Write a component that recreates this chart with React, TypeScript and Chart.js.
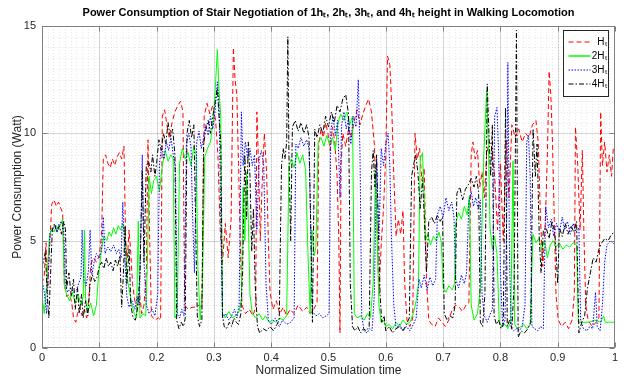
import React, { useEffect, useRef } from "react";
import { Chart, registerables } from "chart.js";

Chart.register(...registerables);

const FONT = "'Liberation Sans', Arial, Helvetica, sans-serif";

const chartTitle =
  "Power Consumption of Stair Negotiation of 1hₜ, 2hₜ, 3hₜ, and 4hₜ height in Walking Locomotion";
const xAxisTitle = "Normalized Simulation time";
const yAxisTitle = "Power Consumption (Watt)";

const xTickValues = [0, 0.1, 0.2, 0.3, 0.4, 0.5, 0.6, 0.7, 0.8, 0.9, 1];
const yTickValues = [0, 5, 10, 15];

const seriesLabels = ["Hₜ", "2Hₜ", "3Hₜ", "4Hₜ"];
const seriesColors = ["#ff0000", "#00ff00", "#0000ff", "#000000"];
const seriesDash = [[5, 3], [], [1.5, 1.5], [5, 2, 1.5, 2]];

const h1Data: [number, number][] = [
  [0.000,3.0],[0.004,3.4],[0.007,4.9],[0.010,2.8],[0.013,4.5],[0.017,6.7],[0.021,6.9],[0.025,6.6],[0.029,6.8],[0.033,6.5],
  [0.036,6.3],[0.039,3.0],[0.043,2.4],[0.048,2.5],[0.052,2.1],[0.055,1.4],[0.059,1.2],[0.062,1.6],[0.066,1.9],[0.070,1.5],
  [0.074,1.8],[0.078,1.4],[0.082,2.4],[0.085,3.9],[0.090,4.2],[0.095,4.0],[0.100,4.3],[0.104,5.3],[0.107,8.8],[0.111,9.0],
  [0.115,8.6],[0.119,8.4],[0.123,8.8],[0.127,8.5],[0.131,8.9],[0.135,9.1],[0.139,8.8],[0.143,9.4],[0.146,5.0],[0.149,4.2],
  [0.152,5.5],[0.155,4.4],[0.158,3.0],[0.162,2.2],[0.166,1.8],[0.170,2.6],[0.174,1.6],[0.178,2.0],[0.182,3.5],[0.185,9.7],
  [0.188,5.0],[0.191,1.5],[0.197,1.3],[0.203,1.4],[0.207,1.3],[0.210,10.8],[0.214,11.1],[0.218,10.4],[0.222,9.8],[0.227,10.5],
  [0.232,11.0],[0.237,11.3],[0.242,11.5],[0.246,11.0],[0.249,2.0],[0.255,1.8],[0.262,1.9],[0.268,1.9],[0.274,2.0],[0.279,1.9],
  [0.283,10.8],[0.288,11.4],[0.293,10.9],[0.298,11.3],[0.303,10.6],[0.307,9.0],[0.311,5.5],[0.315,4.0],[0.320,5.8],[0.325,4.2],
  [0.330,6.0],[0.334,14.0],[0.337,12.5],[0.340,11.8],[0.343,8.6],[0.346,5.0],[0.349,2.0],[0.355,1.6],[0.362,1.8],[0.368,1.5],
  [0.373,1.9],[0.375,11.0],[0.378,8.5],[0.381,5.0],[0.384,7.5],[0.388,10.0],[0.392,8.2],[0.395,5.0],[0.398,2.6],[0.403,1.8],
  [0.409,2.2],[0.415,1.6],[0.421,1.9],[0.427,1.5],[0.433,1.8],[0.440,1.6],[0.447,2.0],[0.455,1.7],[0.462,1.9],[0.468,1.6],
  [0.474,1.8],[0.480,2.1],[0.483,9.5],[0.487,10.2],[0.491,9.8],[0.495,10.5],[0.499,10.0],[0.503,9.2],[0.507,10.3],[0.511,9.6],
  [0.515,8.0],[0.518,5.0],[0.520,0.7],[0.522,8.6],[0.525,10.0],[0.530,9.4],[0.535,10.2],[0.540,9.8],[0.545,10.6],[0.550,11.1],
  [0.555,10.4],[0.560,10.9],[0.565,11.3],[0.570,11.6],[0.575,11.0],[0.580,9.5],[0.585,5.5],[0.588,2.5],[0.592,4.8],[0.596,6.5],
  [0.600,9.0],[0.603,13.6],[0.607,13.2],[0.610,11.5],[0.614,8.0],[0.618,5.2],[0.622,6.0],[0.626,5.3],[0.630,6.4],[0.633,3.0],
  [0.637,1.3],[0.642,1.0],[0.647,1.4],[0.651,10.0],[0.655,8.8],[0.659,9.3],[0.663,7.8],[0.667,8.4],[0.671,3.2],[0.675,1.3],
  [0.680,1.1],[0.686,1.0],[0.692,1.4],[0.698,1.2],[0.704,1.0],[0.710,1.3],[0.716,1.8],[0.722,2.0],[0.728,1.9],[0.734,1.7],
  [0.740,2.0],[0.745,2.1],[0.749,9.0],[0.752,9.6],[0.756,8.8],[0.760,9.2],[0.764,7.5],[0.768,8.2],[0.772,7.0],[0.776,9.0],
  [0.780,9.6],[0.784,9.5],[0.790,8.0],[0.795,5.5],[0.800,8.6],[0.805,5.0],[0.810,9.7],[0.815,7.0],[0.820,10.4],[0.826,9.8],
  [0.832,10.2],[0.838,9.6],[0.844,10.0],[0.850,9.8],[0.856,10.4],[0.862,10.6],[0.866,9.6],[0.870,6.0],[0.874,3.8],[0.878,5.6],
  [0.882,9.0],[0.885,12.9],[0.888,11.8],[0.891,9.5],[0.894,6.0],[0.897,2.5],[0.901,1.3],[0.907,1.0],[0.913,1.2],[0.919,0.9],
  [0.925,1.3],[0.929,2.5],[0.931,10.3],[0.935,8.5],[0.939,5.5],[0.943,9.2],[0.946,5.0],[0.949,2.0],[0.953,1.3],[0.960,1.0],
  [0.967,1.2],[0.972,1.4],[0.975,11.0],[0.978,8.5],[0.982,9.6],[0.986,8.2],[0.990,9.0],[0.994,8.0],[0.997,9.3],[1.000,9.2],
];

const h2Data: [number, number][] = [
  [0.000,2.4],[0.004,1.6],[0.008,3.0],[0.013,5.2],[0.017,5.6],[0.021,5.4],[0.025,5.7],[0.029,5.5],[0.033,5.8],[0.036,6.0],
  [0.039,2.9],[0.043,2.5],[0.048,2.2],[0.053,2.6],[0.058,2.1],[0.063,2.5],[0.068,2.0],[0.072,2.4],[0.074,5.5],[0.076,2.3],
  [0.080,1.7],[0.085,2.1],[0.090,1.5],[0.095,2.0],[0.099,3.5],[0.104,4.6],[0.108,5.2],[0.113,5.0],[0.117,5.4],[0.121,5.2],
  [0.125,5.6],[0.129,5.3],[0.133,5.7],[0.137,5.5],[0.141,5.8],[0.145,5.2],[0.149,3.2],[0.153,2.6],[0.157,2.0],[0.161,1.6],
  [0.165,1.4],[0.168,5.9],[0.171,1.4],[0.176,1.6],[0.181,1.5],[0.184,4.0],[0.187,8.0],[0.191,7.2],[0.195,7.8],[0.200,8.0],
  [0.205,7.3],[0.210,8.5],[0.215,9.2],[0.220,8.7],[0.225,9.0],[0.229,8.8],[0.232,1.4],[0.236,1.6],[0.240,8.6],[0.245,9.3],
  [0.250,8.8],[0.255,9.1],[0.260,8.5],[0.265,9.4],[0.269,9.0],[0.272,3.8],[0.276,1.3],[0.280,2.8],[0.284,8.9],[0.289,9.3],
  [0.294,9.6],[0.299,10.6],[0.303,12.4],[0.306,13.9],[0.309,12.0],[0.312,10.8],[0.315,1.6],[0.320,1.4],[0.326,1.7],[0.332,1.4],
  [0.338,1.5],[0.344,1.7],[0.348,2.3],[0.351,7.5],[0.354,5.0],[0.357,8.2],[0.360,6.0],[0.363,2.5],[0.367,1.6],[0.373,1.4],
  [0.379,1.6],[0.385,1.3],[0.390,1.5],[0.396,1.2],[0.402,1.3],[0.408,1.2],[0.415,1.4],[0.421,1.3],[0.427,1.5],[0.431,8.5],
  [0.435,8.8],[0.440,8.4],[0.445,9.1],[0.450,8.6],[0.455,9.0],[0.460,8.3],[0.464,4.5],[0.468,1.6],[0.471,5.5],[0.475,4.3],
  [0.478,4.7],[0.482,9.6],[0.487,9.8],[0.492,9.4],[0.497,9.9],[0.502,9.5],[0.507,9.8],[0.512,9.2],[0.516,10.4],[0.521,10.9],
  [0.527,10.6],[0.532,11.0],[0.537,10.4],[0.542,10.8],[0.545,1.6],[0.550,1.4],[0.556,1.5],[0.562,1.3],[0.568,1.6],[0.573,1.4],
  [0.578,3.0],[0.582,8.3],[0.585,5.0],[0.588,2.0],[0.592,1.2],[0.596,1.3],[0.600,1.0],[0.606,1.1],[0.612,0.9],[0.618,1.2],
  [0.624,1.0],[0.630,1.3],[0.636,1.1],[0.642,1.2],[0.648,1.6],[0.653,2.2],[0.657,3.0],[0.660,8.8],[0.664,9.1],[0.667,7.0],
  [0.669,5.0],[0.673,5.3],[0.678,4.8],[0.683,5.2],[0.688,5.0],[0.693,5.4],[0.697,4.9],[0.700,2.8],[0.705,2.6],[0.710,2.9],
  [0.716,2.7],[0.720,3.0],[0.722,5.8],[0.727,6.3],[0.732,6.0],[0.737,6.6],[0.742,6.2],[0.746,7.1],[0.749,2.0],[0.754,1.3],
  [0.760,1.6],[0.765,2.8],[0.771,9.0],[0.776,12.0],[0.779,9.5],[0.782,5.6],[0.786,4.6],[0.790,5.2],[0.794,4.4],[0.798,1.2],
  [0.803,1.0],[0.808,1.1],[0.813,0.9],[0.818,1.2],[0.822,8.7],[0.825,1.1],[0.830,0.9],[0.836,1.0],[0.841,1.1],[0.846,0.9],
  [0.852,1.1],[0.857,5.3],[0.862,4.9],[0.867,5.1],[0.872,4.6],[0.877,5.0],[0.882,4.2],[0.887,4.8],[0.892,5.0],[0.897,4.7],
  [0.903,4.9],[0.909,4.6],[0.915,4.8],[0.921,4.7],[0.927,4.9],[0.933,4.8],[0.936,1.2],[0.945,1.2],[0.955,1.2],[0.965,1.3],
  [0.975,1.2],[0.980,1.5],[0.983,1.2],[0.990,1.2],[1.000,1.2],
];

const h3Data: [number, number][] = [
  [0.000,3.2],[0.004,2.6],[0.008,1.6],[0.011,3.5],[0.014,5.4],[0.018,5.5],[0.022,5.7],[0.026,5.4],[0.030,5.8],[0.034,5.9],
  [0.038,5.5],[0.041,2.9],[0.045,2.6],[0.050,2.8],[0.055,2.6],[0.060,2.7],[0.064,3.0],[0.068,3.3],[0.070,5.5],[0.073,3.2],
  [0.077,2.9],[0.081,3.6],[0.084,5.5],[0.087,3.4],[0.091,4.0],[0.095,4.4],[0.100,4.2],[0.104,4.6],[0.107,6.1],[0.110,4.4],
  [0.115,4.7],[0.120,4.5],[0.125,4.8],[0.130,4.4],[0.134,4.6],[0.138,4.2],[0.141,6.8],[0.144,4.5],[0.148,2.4],[0.152,1.9],
  [0.157,2.2],[0.162,1.8],[0.166,2.4],[0.170,2.0],[0.175,9.0],[0.178,4.0],[0.182,2.0],[0.187,1.6],[0.192,1.8],[0.197,1.5],
  [0.202,2.5],[0.205,8.6],[0.209,9.4],[0.213,8.8],[0.217,9.6],[0.221,9.2],[0.225,9.8],[0.229,9.0],[0.233,8.4],[0.236,1.6],
  [0.240,1.4],[0.244,1.8],[0.248,1.5],[0.252,9.5],[0.256,10.0],[0.260,9.4],[0.263,6.0],[0.266,3.5],[0.270,9.6],[0.274,10.1],
  [0.278,9.3],[0.282,9.8],[0.286,10.4],[0.290,9.9],[0.294,10.8],[0.298,10.2],[0.302,11.0],[0.306,12.4],[0.309,11.3],[0.312,6.0],
  [0.315,1.4],[0.320,1.6],[0.326,1.3],[0.331,1.5],[0.336,1.8],[0.340,1.4],[0.344,2.0],[0.348,11.0],[0.351,8.5],[0.355,9.6],
  [0.359,8.8],[0.363,9.3],[0.367,8.5],[0.371,9.0],[0.375,5.5],[0.379,8.8],[0.383,9.2],[0.387,8.5],[0.391,3.0],[0.395,1.3],
  [0.400,1.1],[0.407,1.4],[0.414,1.0],[0.420,1.3],[0.427,1.1],[0.434,1.2],[0.440,1.4],[0.443,9.5],[0.447,9.3],[0.452,9.8],
  [0.457,9.4],[0.462,9.7],[0.466,9.3],[0.469,5.8],[0.472,1.7],[0.478,1.5],[0.484,1.6],[0.490,1.4],[0.496,1.5],[0.501,1.6],
  [0.504,10.1],[0.508,10.8],[0.512,9.9],[0.516,10.6],[0.520,7.0],[0.523,10.4],[0.527,11.0],[0.531,10.2],[0.535,10.7],[0.539,9.5],
  [0.543,10.8],[0.548,10.3],[0.552,12.5],[0.555,9.0],[0.558,1.5],[0.562,0.8],[0.567,0.7],[0.572,0.9],[0.576,0.8],[0.580,2.5],
  [0.584,8.8],[0.588,5.0],[0.592,9.3],[0.596,8.5],[0.600,9.5],[0.604,10.0],[0.607,8.5],[0.610,5.0],[0.614,2.0],[0.618,0.9],
  [0.624,1.1],[0.630,0.8],[0.636,1.0],[0.642,0.8],[0.648,1.1],[0.653,1.4],[0.658,3.2],[0.662,2.8],[0.667,3.4],[0.672,2.7],
  [0.677,3.3],[0.682,2.9],[0.687,3.2],[0.690,6.2],[0.695,6.6],[0.700,6.1],[0.705,7.0],[0.710,6.4],[0.715,6.8],[0.719,6.1],
  [0.722,3.2],[0.727,2.8],[0.732,3.4],[0.737,3.0],[0.741,3.5],[0.745,6.8],[0.749,7.3],[0.753,6.6],[0.757,7.0],[0.761,6.5],
  [0.765,6.9],[0.768,2.5],[0.772,1.5],[0.777,1.2],[0.781,1.5],[0.786,1.8],[0.790,10.8],[0.794,11.2],[0.797,9.0],[0.800,3.5],
  [0.804,1.0],[0.808,1.3],[0.811,6.0],[0.813,13.3],[0.816,4.0],[0.819,0.9],[0.823,0.8],[0.828,0.9],[0.833,0.8],[0.838,1.0],
  [0.843,2.0],[0.846,9.6],[0.849,9.9],[0.852,8.0],[0.855,1.0],[0.860,0.9],[0.865,0.8],[0.870,1.0],[0.875,0.9],[0.879,6.6],
  [0.884,5.6],[0.889,6.0],[0.893,5.2],[0.898,5.8],[0.903,5.4],[0.908,6.1],[0.912,5.5],[0.917,5.9],[0.922,5.3],[0.927,5.8],
  [0.932,5.4],[0.937,5.6],[0.940,1.3],[0.945,0.9],[0.951,0.8],[0.956,1.0],[0.961,0.9],[0.966,2.6],[0.969,1.0],[0.974,0.8],
  [0.978,2.0],[0.982,4.0],[0.986,4.8],[0.992,5.0],[1.000,4.8],
];

const h4Data: [number, number][] = [
  [0.000,3.8],[0.003,4.1],[0.006,4.5],[0.009,2.5],[0.012,1.4],[0.015,3.5],[0.018,5.5],[0.022,5.8],[0.026,5.4],[0.030,5.7],
  [0.034,5.3],[0.038,5.9],[0.041,5.5],[0.043,2.8],[0.047,3.5],[0.051,2.4],[0.055,3.2],[0.058,1.8],[0.062,2.8],[0.065,1.6],
  [0.069,2.5],[0.072,1.4],[0.076,2.2],[0.080,1.5],[0.084,3.0],[0.088,3.4],[0.092,3.1],[0.096,3.3],[0.100,3.8],[0.104,4.0],
  [0.108,3.7],[0.112,4.2],[0.116,3.8],[0.120,4.0],[0.124,3.6],[0.128,4.1],[0.132,3.8],[0.136,4.3],[0.139,1.9],[0.142,3.4],
  [0.145,5.7],[0.148,3.0],[0.152,4.6],[0.155,2.0],[0.159,1.4],[0.163,1.3],[0.167,1.9],[0.171,3.5],[0.175,8.3],[0.178,4.0],
  [0.182,8.5],[0.186,8.7],[0.190,8.2],[0.193,9.0],[0.197,8.0],[0.200,8.6],[0.204,9.7],[0.208,9.2],[0.212,10.0],[0.216,9.5],
  [0.220,10.5],[0.224,9.8],[0.228,10.2],[0.232,9.0],[0.235,1.3],[0.239,0.9],[0.243,1.2],[0.247,1.0],[0.250,1.4],[0.253,10.0],
  [0.257,10.6],[0.261,9.8],[0.265,10.4],[0.268,6.0],[0.271,1.5],[0.275,1.0],[0.279,1.3],[0.282,9.5],[0.286,10.2],[0.290,10.6],
  [0.294,10.0],[0.298,10.8],[0.302,11.4],[0.306,12.1],[0.309,10.8],[0.312,9.5],[0.315,1.5],[0.318,1.0],[0.322,0.9],[0.327,1.2],
  [0.331,1.0],[0.335,1.4],[0.339,1.2],[0.343,1.1],[0.347,1.6],[0.350,3.5],[0.354,9.0],[0.357,6.0],[0.360,9.6],[0.363,8.0],
  [0.366,4.5],[0.369,6.5],[0.372,3.0],[0.376,1.0],[0.380,0.7],[0.386,0.9],[0.392,0.8],[0.398,1.0],[0.404,0.8],[0.410,1.1],
  [0.414,1.3],[0.418,8.5],[0.421,9.3],[0.424,8.8],[0.427,9.6],[0.429,14.5],[0.431,9.0],[0.434,5.0],[0.437,10.3],[0.442,10.6],
  [0.447,10.1],[0.452,10.5],[0.457,10.0],[0.462,10.4],[0.466,9.8],[0.469,5.5],[0.472,1.2],[0.476,10.2],[0.480,9.8],[0.485,10.4],
  [0.490,10.0],[0.495,10.8],[0.500,10.3],[0.505,11.0],[0.510,10.5],[0.515,11.3],[0.520,11.0],[0.525,11.6],[0.530,11.8],[0.535,10.9],
  [0.538,3.0],[0.542,1.0],[0.546,0.8],[0.551,1.0],[0.556,0.7],[0.561,0.9],[0.566,0.8],[0.571,1.0],[0.575,8.2],[0.578,9.2],
  [0.581,7.5],[0.584,9.0],[0.587,5.5],[0.590,2.5],[0.593,1.2],[0.597,1.5],[0.600,0.8],[0.606,1.0],[0.612,0.7],[0.618,0.9],
  [0.624,1.0],[0.630,0.8],[0.636,1.1],[0.641,1.4],[0.645,8.0],[0.649,8.6],[0.652,9.0],[0.656,8.2],[0.660,6.5],[0.664,7.8],
  [0.667,6.2],[0.671,3.5],[0.675,5.9],[0.680,6.1],[0.685,5.8],[0.690,6.2],[0.695,5.9],[0.699,6.1],[0.702,1.6],[0.707,1.3],
  [0.712,1.5],[0.717,1.4],[0.721,2.0],[0.724,7.2],[0.729,7.5],[0.734,6.9],[0.739,7.4],[0.744,7.6],[0.749,7.9],[0.754,7.5],
  [0.758,8.0],[0.762,7.3],[0.765,1.2],[0.769,1.0],[0.773,2.5],[0.777,12.3],[0.780,10.0],[0.783,8.0],[0.786,10.4],[0.789,1.5],
  [0.793,1.1],[0.797,1.3],[0.801,0.9],[0.805,1.1],[0.809,11.2],[0.812,1.0],[0.816,1.3],[0.820,0.9],[0.824,3.0],[0.828,14.8],
  [0.831,0.5],[0.836,0.8],[0.842,0.7],[0.848,0.9],[0.853,1.2],[0.857,10.2],[0.861,8.0],[0.864,9.5],[0.868,5.0],[0.871,3.5],
  [0.875,5.5],[0.880,5.6],[0.885,5.1],[0.890,5.9],[0.895,5.4],[0.900,3.0],[0.903,5.6],[0.908,5.2],[0.913,5.8],[0.918,5.3],
  [0.923,5.7],[0.928,5.4],[0.933,5.9],[0.937,0.7],[0.942,1.2],[0.947,1.5],[0.952,2.8],[0.957,3.5],[0.962,4.2],[0.967,4.0],
  [0.972,4.6],[0.977,4.9],[0.982,5.1],[0.988,5.0],[0.994,5.3],[1.000,5.4],
];

const allSeries = [h1Data, h2Data, h3Data, h4Data];

const AXIS_COLOR = "#808080";
const TEXT_COLOR = "#262626";

const matlabPlugin = {
  id: "matlabLook",
  beforeDatasetsDraw(chart: any) {
    const { ctx, chartArea: a, scales } = chart;
    const xs = scales.x;
    const ys = scales.y;
    ctx.save();
    ctx.lineWidth = 1;
    ctx.strokeStyle = "rgba(0,0,0,0.09)";
    ctx.setLineDash([1, 2]);
    const xMin = xTickValues[0];
    const xMax = xTickValues[xTickValues.length - 1];
    const xMinorStep = (xTickValues[1] - xTickValues[0]) / 10;
    for (let v = xMin + xMinorStep; v < xMax - 1e-9; v += xMinorStep) {
      const px = Math.round(xs.getPixelForValue(v)) + 0.5;
      ctx.beginPath();
      ctx.moveTo(px, a.top);
      ctx.lineTo(px, a.bottom);
      ctx.stroke();
    }
    const yMinorStep = (yTickValues[1] - yTickValues[0]) / 10;
    for (let v = yTickValues[0] + yMinorStep; v < yTickValues[yTickValues.length - 1] - 1e-9; v += yMinorStep) {
      const py = Math.round(ys.getPixelForValue(v)) + 0.5;
      ctx.beginPath();
      ctx.moveTo(a.left, py);
      ctx.lineTo(a.right, py);
      ctx.stroke();
    }
    ctx.setLineDash([]);
    ctx.strokeStyle = "rgba(0,0,0,0.14)";
    xTickValues.slice(1, -1).forEach((v) => {
      const px = Math.round(xs.getPixelForValue(v)) + 0.5;
      ctx.beginPath();
      ctx.moveTo(px, a.top);
      ctx.lineTo(px, a.bottom);
      ctx.stroke();
    });
    yTickValues.slice(1, -1).forEach((v) => {
      const py = Math.round(ys.getPixelForValue(v)) + 0.5;
      ctx.beginPath();
      ctx.moveTo(a.left, py);
      ctx.lineTo(a.right, py);
      ctx.stroke();
    });
    ctx.restore();
  },
  afterDatasetsDraw(chart: any) {
    const { ctx, chartArea: a, scales } = chart;
    const xs = scales.x;
    const ys = scales.y;
    ctx.save();
    ctx.strokeStyle = AXIS_COLOR;
    ctx.lineWidth = 1;
    ctx.setLineDash([]);
    const L = Math.round(a.left) + 0.5;
    const R = Math.round(a.right) - 0.5;
    const T = Math.round(a.top) + 0.5;
    const B = Math.round(a.bottom) - 0.5;
    ctx.strokeRect(L, T, R - L, B - T);
    const tl = 5;
    xTickValues.forEach((v) => {
      const px = Math.round(xs.getPixelForValue(v)) + 0.5;
      ctx.beginPath();
      ctx.moveTo(px, B);
      ctx.lineTo(px, B - tl);
      ctx.moveTo(px, T);
      ctx.lineTo(px, T + tl);
      ctx.stroke();
    });
    yTickValues.forEach((v) => {
      const py = Math.round(ys.getPixelForValue(v)) + 0.5;
      ctx.beginPath();
      ctx.moveTo(L, py);
      ctx.lineTo(L + tl, py);
      ctx.moveTo(R, py);
      ctx.lineTo(R - tl, py);
      ctx.stroke();
    });

    const bw = 45;
    const bh = 66;
    const bx = Math.round(a.right - 52) + 0.5;
    const by = Math.round(a.top + 4) + 0.5;
    ctx.fillStyle = "#ffffff";
    ctx.fillRect(bx, by, bw, bh);
    ctx.strokeStyle = "#262626";
    ctx.strokeRect(bx, by, bw, bh);
    ctx.font = `10px ${FONT}`;
    ctx.textAlign = "right";
    ctx.textBaseline = "middle";
    seriesLabels.forEach((lab, i) => {
      const cy = by + 11.5 + i * 14;
      ctx.strokeStyle = seriesColors[i];
      ctx.lineWidth = i === 1 ? 1.5 : 1;
      ctx.setLineDash(seriesDash[i]);
      ctx.beginPath();
      ctx.moveTo(bx + 5, cy);
      ctx.lineTo(bx + 27, cy);
      ctx.stroke();
      ctx.fillStyle = "#000000";
      ctx.fillText(lab, bx + bw - 2, cy);
    });
    ctx.restore();
  },
};

export default function App() {
  const canvasRef = useRef<HTMLCanvasElement | null>(null);

  useEffect(() => {
    const canvas = canvasRef.current;
    if (!canvas) return;
    const datasets = allSeries.map((series, i) => ({
      label: seriesLabels[i],
      data: series.map(([x, y]) => ({ x, y })),
      borderColor: seriesColors[i],
      backgroundColor: seriesColors[i],
      borderWidth: 1,
      borderDash: seriesDash[i],
      pointRadius: 0,
      tension: 0,
      fill: false,
      order: 4 - i,
    }));
    const chart = new Chart(canvas, {
      type: "line",
      data: { datasets },
      options: {
        responsive: false,
        animation: false,
        layout: { padding: { left: 0, right: 9, top: 0, bottom: 0 } },
        plugins: {
          legend: { display: false },
          tooltip: { enabled: false },
          title: {
            display: true,
            fullSize: false,
            text: chartTitle,
            color: "#000000",
            font: { family: FONT, size: 11, weight: "bold" },
            padding: { top: 6, bottom: 6.8 },
          },
        },
        scales: {
          x: {
            type: "linear",
            min: xTickValues[0],
            max: xTickValues[xTickValues.length - 1],
            afterFit: (s: any) => {
              s.height = 31;
            },
            afterBuildTicks: (s: any) => {
              s.ticks = xTickValues.map((v) => ({ value: v }));
            },
            grid: { display: false, drawTicks: false },
            border: { display: false },
            ticks: {
              autoSkip: false,
              maxRotation: 0,
              padding: 3,
              color: TEXT_COLOR,
              font: { family: FONT, size: 11 },
              callback: (v: any) => String(Number(Number(v).toFixed(1))),
            },
            title: {
              display: true,
              text: xAxisTitle,
              color: TEXT_COLOR,
              font: { family: FONT, size: 12 },
              padding: { top: 0, bottom: 1 },
            },
          },
          y: {
            type: "linear",
            min: yTickValues[0],
            max: yTickValues[yTickValues.length - 1],
            afterFit: (s: any) => {
              s.width = 42;
            },
            afterBuildTicks: (s: any) => {
              s.ticks = yTickValues.map((v) => ({ value: v }));
            },
            grid: { display: false, drawTicks: false },
            border: { display: false },
            ticks: {
              autoSkip: false,
              padding: 6,
              color: TEXT_COLOR,
              font: { family: FONT, size: 11 },
            },
            title: {
              display: true,
              text: yAxisTitle,
              color: TEXT_COLOR,
              font: { family: FONT, size: 12 },
              padding: { top: 10, bottom: 0 },
            },
          },
        },
      },
      plugins: [matlabPlugin],
    });
    return () => chart.destroy();
  }, []);

  return (
    <div style={{ position: "absolute", left: 0, top: 0, width: 624, height: 379, background: "#ffffff" }}>
      <canvas ref={canvasRef} width={624} height={379} style={{ display: "block" }} />
    </div>
  );
}
